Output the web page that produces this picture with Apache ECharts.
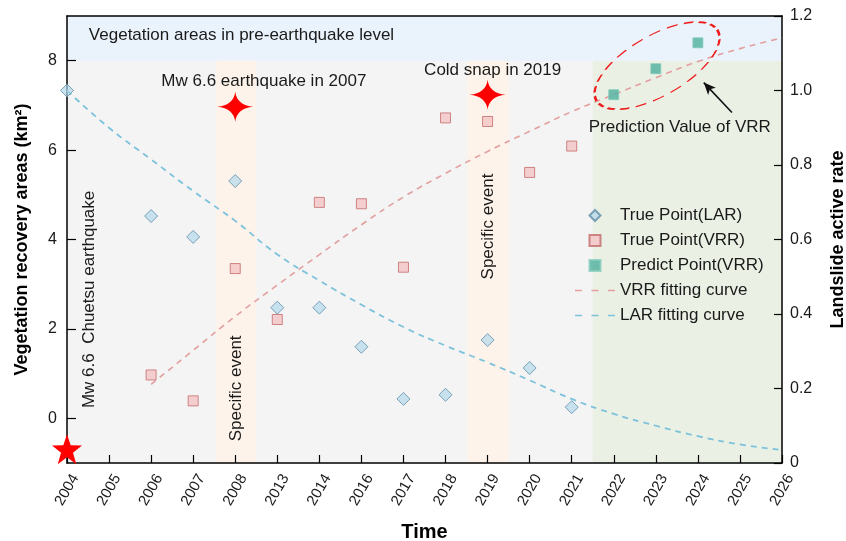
<!DOCTYPE html>
<html>
<head>
<meta charset="utf-8">
<script src="https://cdn.jsdelivr.net/npm/echarts@6/dist/echarts.min.js"></script>
<style>
  html, body { margin: 0; padding: 0; background: #fff; }
  #chart { width: 846px; height: 541px; }
</style>
</head>
<body>
<div id="chart"></div>
<script>
// x axis categories (evenly spaced)
const years = ['2004', '2005', '2006', '2007', '2008', '2013', '2014', '2016', '2017',
  '2018', '2019', '2020', '2021', '2022', '2023', '2024', '2025', '2026']

// landslide active rate, right axis
const larYears = ['2004', '2006', '2007', '2008', '2013', '2014', '2016', '2017', '2018', '2019', '2020', '2021']
const larValues = [1.0, 0.663, 0.607, 0.757, 0.417, 0.417, 0.312, 0.172, 0.183, 0.330, 0.255, 0.150]

// vegetation recovery areas (km2), left axis
const vrrYears = ['2006', '2007', '2008', '2013', '2014', '2016', '2017', '2018', '2019', '2020', '2021']
const vrrValues = [0.97, 0.39, 3.35, 2.21, 4.83, 4.80, 3.38, 6.72, 6.64, 5.50, 6.09]

const predictYears = ['2022', '2023', '2024']
const predictValues = [7.24, 7.82, 8.40]

// fitting curves read at each category
const larCurve = [1.0, 0.90, 0.815, 0.73, 0.65, 0.56, 0.49, 0.425, 0.365, 0.315, 0.27, 0.222,
  0.172, 0.132, 0.10, 0.072, 0.05, 0.035]
const vrrCurveYears = years.slice(2)
const vrrCurve = [0.76, 1.52, 2.28, 2.98, 3.66, 4.33, 4.95, 5.48, 5.97, 6.42, 6.86, 7.24,
  7.62, 7.98, 8.27, 8.51]

const leftTicks = [0, 2, 4, 6, 8]

const idx = y => years.indexOf(y)
const pairs = (ys, vs) => ys.map((y, i) => [idx(y), vs[i]])

const font = 'Liberation Sans, Arial, sans-serif'
const txt = '#1a1a1a'

const diamond = 'path://M0,-1L1,0L0,1L-1,0Z'
const square = 'path://M0,0H1V1H0Z'
const dashIcon = 'path://M0,0h7v1.6h-7z M16.5,0h7v1.6h-7z M33,0h7v1.6h-7z'
const star4 = 'path://M0,-15 Q1.6,-1.6 18,0 Q1.6,1.6 0,15 Q-1.6,1.6 -18,0 Q-1.6,-1.6 0,-15Z'
const star5 = 'path://M0,-10 L2.35,-3.24 L9.51,-3.09 L3.8,1.24 L5.88,8.09 L0,4 L-5.88,8.09 L-3.8,1.24 L-9.51,-3.09 L-2.35,-3.24Z'

const textPoint = (coord, text, extra) => ({
  coord: coord,
  symbolSize: 0,
  label: Object.assign({
    show: true, position: 'inside', formatter: text,
    fontSize: 17, color: txt, fontFamily: font
  }, extra || {})
})

const chart = echarts.init(document.getElementById('chart'), null, {renderer: 'canvas'})

const option = {
  animation: false,
  textStyle: {fontFamily: font},
  grid: {
    left: 67, right: 64, top: 16, bottom: 78,
    outerBoundsMode: 'none', containLabel: false,
    show: true, backgroundColor: '#f4f4f4', borderWidth: 0
  },
  legend: {
    orient: 'vertical',
    left: 570, top: 202,
    itemWidth: 40, itemHeight: 11, itemGap: 8,
    symbolKeepAspect: true,
    textStyle: {fontSize: 17, color: txt, fontFamily: font},
    data: [
      {name: 'True Point(LAR)', icon: diamond},
      {name: 'True Point(VRR)', icon: square},
      {name: 'Predict Point(VRR)', icon: square},
      {name: 'VRR fitting curve', icon: dashIcon},
      {name: 'LAR fitting curve', icon: dashIcon}
    ]
  },
  xAxis: [
    {
      type: 'value', min: 0, max: years.length - 1, interval: 1, z: 3,
      name: 'Time', nameLocation: 'middle', nameGap: 59,
      nameTextStyle: {fontSize: 20, fontWeight: 'bold', color: '#000'},
      axisLine: {onZero: false, lineStyle: {color: '#000', width: 1.5}},
      axisTick: {inside: true, length: 8, lineStyle: {color: '#000', width: 1.2}},
      axisLabel: {
        formatter: v => years[v], rotate: 60, align: 'center', verticalAlign: 'middle',
        margin: 27, fontSize: 15, color: txt
      },
      splitLine: {show: false}
    },
    {
      type: 'value', position: 'top', min: 0, max: years.length - 1, z: 3,
      axisLine: {show: true, onZero: false, lineStyle: {color: '#000', width: 1.5}},
      axisTick: {show: false}, axisLabel: {show: false}, splitLine: {show: false}
    }
  ],
  yAxis: [
    {
      type: 'value', min: -1, max: 9, z: 3,
      name: 'Vegetation recovery areas (km²)', nameLocation: 'middle', nameGap: 36, nameRotate: 90,
      nameTextStyle: {fontSize: 18, fontWeight: 'bold', color: '#000'},
      axisLine: {show: true, onZero: false, lineStyle: {color: '#000', width: 1.5}},
      axisTick: {show: true, inside: true, length: 9, customValues: leftTicks, lineStyle: {color: '#000', width: 1.2}},
      axisLabel: {customValues: leftTicks, fontSize: 16, color: txt, margin: 10},
      splitLine: {show: false}
    },
    {
      type: 'value', min: 0, max: 1.2, interval: 0.2, position: 'right', z: 3,
      name: 'Landslide active rate', nameLocation: 'middle', nameGap: 47, nameRotate: 90,
      nameTextStyle: {fontSize: 18, fontWeight: 'bold', color: '#000'},
      axisLine: {show: true, onZero: false, lineStyle: {color: '#000', width: 1.5}},
      axisTick: {show: true, inside: true, length: 8, lineStyle: {color: '#000', width: 1.2}},
      axisLabel: {formatter: v => v === 0 ? '0' : v.toFixed(1), fontSize: 16, color: txt, margin: 8},
      splitLine: {show: false}
    }
  ],
  series: [
    {
      // backgrounds and annotations
      name: 'annot', type: 'scatter', yAxisIndex: 0, data: [],
      markArea: {
        silent: true,
        data: [
          [{coord: [0, 8], itemStyle: {color: '#eaf3fc'}}, {coord: [17, 9]}],
          [{coord: [3.55, -1], itemStyle: {color: '#fdf3ea'}}, {coord: [4.5, 8]}],
          [{coord: [9.52, -1], itemStyle: {color: '#fdf3ea'}}, {coord: [10.5, 8]}],
          [{coord: [12.5, -1], itemStyle: {color: '#ebf0e5'}}, {coord: [17, 8]}]
        ]
      },
      markPoint: {
        silent: true,
        data: [
          {coord: [4, 6.97], symbol: star4, symbolSize: [36, 30], itemStyle: {color: '#ff0000'}},
          {coord: [10, 7.24], symbol: star4, symbolSize: [36, 30], itemStyle: {color: '#ff0000'}},
          {coord: [0, -0.69], symbol: star5, symbolSize: [30, 30], itemStyle: {color: '#ff0000'}},
          {
            coord: [14.03, 7.89], symbol: 'circle', symbolSize: [140, 60], symbolRotate: 30,
            itemStyle: {color: 'rgba(0,0,0,0)', borderColor: '#ee1c1c', borderWidth: 1.8, borderType: [8, 5]}
          },
          textPoint([0.52, 8.56], 'Vegetation areas in pre-earthquake level', {align: 'left'}),
          textPoint([4.68, 7.53], 'Mw 6.6 earthquake in 2007'),
          textPoint([10.12, 7.78], 'Cold snap in 2019'),
          textPoint([14.57, 6.50], 'Prediction Value of VRR'),
          textPoint([0.52, 2.66], 'Mw 6.6  Chuetsu earthquake', {rotate: 90}),
          textPoint([4.02, 0.67], 'Specific event', {rotate: 90}),
          textPoint([10.01, 4.29], 'Specific event', {rotate: 90})
        ]
      },
      markLine: {
        silent: true,
        symbol: ['none', 'arrow'], symbolSize: [8, 12],
        label: {show: false},
        lineStyle: {color: '#111', width: 1.6, type: 'solid'},
        data: [[{coord: [15.81, 6.84]}, {coord: [15.14, 7.51]}]]
      }
    },
    {
      name: 'VRR fitting curve', type: 'line', yAxisIndex: 0, smooth: true,
      symbol: 'none', z: 3,
      itemStyle: {color: '#e39f9f'},
      lineStyle: {color: '#e39f9f', width: 1.6, type: [6, 5]},
      data: pairs(vrrCurveYears, vrrCurve)
    },
    {
      name: 'LAR fitting curve', type: 'line', yAxisIndex: 1, smooth: true,
      symbol: 'none', z: 3,
      itemStyle: {color: '#7cc2dc'},
      lineStyle: {color: '#7cc2dc', width: 1.8, type: [6, 5]},
      data: pairs(years, larCurve)
    },
    {
      name: 'True Point(LAR)', type: 'scatter', yAxisIndex: 1, symbol: diamond, symbolSize: 13, z: 4,
      itemStyle: {color: 'rgba(178,215,235,0.85)', borderColor: '#5f8fa8', borderWidth: 1},
      data: pairs(larYears, larValues)
    },
    {
      name: 'True Point(VRR)', type: 'scatter', yAxisIndex: 0, symbol: square, symbolSize: 10, z: 4,
      itemStyle: {color: '#f4c4c4', borderColor: '#c46b6b', borderWidth: 1},
      data: pairs(vrrYears, vrrValues)
    },
    {
      name: 'Predict Point(VRR)', type: 'scatter', yAxisIndex: 0, symbol: square, symbolSize: 10, z: 4,
      itemStyle: {color: '#4daf9c', borderColor: '#86cdbd', borderWidth: 1},
      data: pairs(predictYears, predictValues)
    }
  ]
}

chart.setOption(option)
</script>
</body>
</html>
